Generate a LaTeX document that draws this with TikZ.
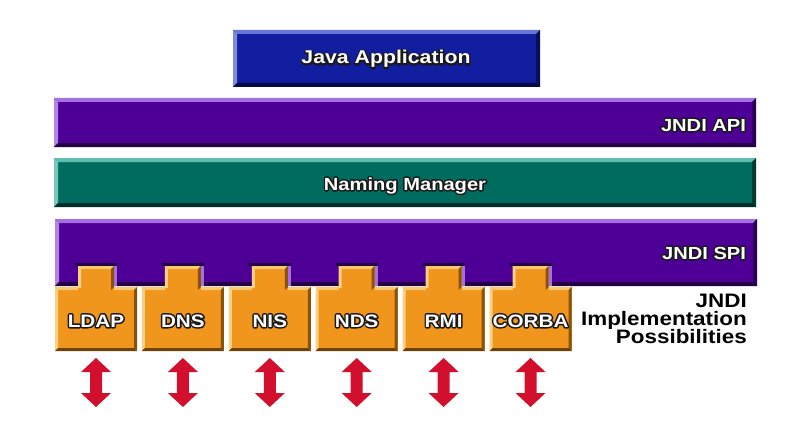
\documentclass[tikz,border=0pt]{standalone}
\usepackage{fontspec}
\setmainfont{Liberation Sans}[FakeStretch=1.15]
\definecolor{jblue}{RGB}{18,30,160}
\definecolor{jbluel}{RGB}{100,120,215}
\definecolor{jblued}{RGB}{5,10,70}
\definecolor{jpur}{RGB}{78,0,150}
\definecolor{jpurl}{RGB}{165,110,225}
\definecolor{jpurd}{RGB}{35,0,70}
\definecolor{jteal}{RGB}{0,108,96}
\definecolor{jteall}{RGB}{95,190,175}
\definecolor{jteald}{RGB}{0,45,40}
\definecolor{jor}{RGB}{240,150,28}
\definecolor{jorl}{RGB}{250,200,110}
\definecolor{jord}{RGB}{110,65,5}
\definecolor{jred}{RGB}{210,16,45}
% bevelled rectangle: x1 y1 x2 y2 base light dark width
\newcommand\bevrect[8]{%
  \fill[#5] (#1,#2) rectangle (#3,#4);
  \fill[#6] (#1,#2) -- (#3,#2) -- (#3-#8,#2+#8) -- (#1+#8,#2+#8) -- cycle;
  \fill[#6!85!white] (#1,#2) -- (#1+#8,#2+#8) -- (#1+#8,#4-#8) -- (#1,#4) -- cycle;
  \fill[#7] (#1,#4) -- (#3,#4) -- (#3-#8,#4-#8) -- (#1+#8,#4-#8) -- cycle;
  \fill[#7!80!#5] (#3,#2) -- (#3,#4) -- (#3-#8,#4-#8) -- (#3-#8,#2+#8) -- cycle;
}
% stroked (outline) text
\newcommand\strk[1]{\special{pdf:literal direct 1 Tr 3 w 1 j 0.1 0.1 0.1 RG}#1\special{pdf:literal direct 0 Tr}}
% outlined white label: name, position, anchor, font size, text
\newcommand\olabel[5]{%
  \node[lbl, anchor=#3, font=\bfseries\fontsize{#4}{#4}\selectfont] at (#2) {\strk{#5}};
  \node[lbl, text=white, anchor=#3, font=\bfseries\fontsize{#4}{#4}\selectfont] (#1) at (#2) {#5};
}
\begin{document}
\begin{tikzpicture}[x=1pt,y=-1pt,
  lbl/.style={inner sep=0pt, outer sep=0pt},
  impl/.style={inner sep=0pt, anchor=base east, text=black, font=\bfseries\fontsize{19.5}{19.5}\selectfont}]
\useasboundingbox[fill=white] (0,0) rectangle (802,441);
% Java Application
\bevrect{233}{30}{540}{87}{jblue}{jbluel}{jblued}{4}
\olabel{java}{386,64}{base}{18.5}{Java Application}
% JNDI API
\bevrect{54}{98}{756}{147}{jpur}{jpurl}{jpurd}{4}
\olabel{api}{746,131}{base east}{17.5}{JNDI API}
% Naming Manager
\bevrect{54}{158}{756}{207}{jteal}{jteall}{jteald}{4}
\olabel{nm}{405,190}{base}{17.5}{Naming Manager}
% JNDI SPI
\bevrect{55}{219}{757}{286}{jpur}{jpurl}{jpurd}{4}
\olabel{spi}{746,259}{base east}{17.5}{JNDI SPI}
% providers
\foreach \nm [count=\i from 0] in {LDAP,DNS,NIS,NDS,RMI,CORBA}{%
  \pgfmathsetmacro\cx{96+86.9*\i}
  \bevrect{\cx-41}{287}{\cx+41}{351}{jor}{jorl}{jord}{3}
  \fill[jpurl] (\cx+18,266) rectangle (\cx+21,286);
  \fill[jpurd] (\cx-21,263) rectangle (\cx+21,266);
  \fill[jor] (\cx-18,266) rectangle (\cx+18,291);
  \fill[jorl] (\cx-18,266) -- (\cx+18,266) -- (\cx+15,269) -- (\cx-15,269) -- cycle;
  \fill[jorl!85!white] (\cx-18,266) -- (\cx-15,269) -- (\cx-15,288) -- (\cx-18,288) -- cycle;
  \fill[jord!80!jor] (\cx+18,266) -- (\cx+15,269) -- (\cx+15,290) -- (\cx+18,287) -- cycle;
  \olabel{p\nm}{\cx,327}{base}{18}{\nm}
  % double arrow
  \fill[jred] (\cx,358) -- (\cx+15,372) -- (\cx+6,372) -- (\cx+6,393) -- (\cx+15,393)
     -- (\cx,407) -- (\cx-15,393) -- (\cx-6,393) -- (\cx-6,372) -- (\cx-15,372) -- cycle;
}
\node[impl] (impl1) at (747,307) {JNDI};
\node[impl] (impl2) at (747,325) {Implementation};
\node[impl] (impl3) at (747,343) {Possibilities};
\end{tikzpicture}
\end{document}
